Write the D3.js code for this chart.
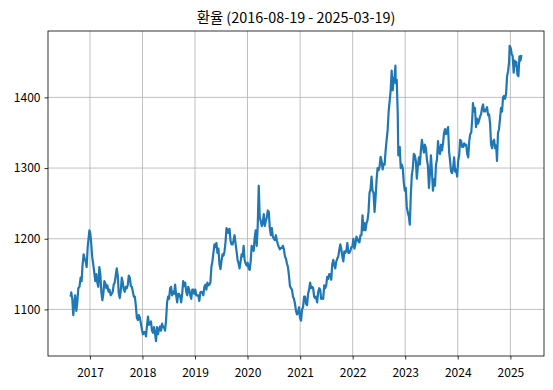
<!DOCTYPE html>
<html>
<head>
<meta charset="utf-8">
<script src="https://cdn.jsdelivr.net/npm/d3@7"></script>
<style>
  body { margin: 0; background: #fff; }
  text { font-family: "Noto Sans CJK KR", "Noto Sans", sans-serif; }
</style>
</head>
<body>
<svg id="chart" width="553" height="390"></svg>
<script>
// daily USD/KRW, roughly weekly
var rate2016 = [
  ["2016-08-19",1118],["2016-08-24",1124],["2016-08-31",1115],["2016-09-07",1092],["2016-09-12",1105],
  ["2016-09-20",1120],["2016-09-28",1098],["2016-10-05",1110],["2016-10-12",1130],["2016-10-20",1132],
  ["2016-10-28",1145],["2016-11-04",1140],["2016-11-10",1162],["2016-11-18",1178],["2016-11-25",1172],
  ["2016-12-02",1168],["2016-12-09",1160],["2016-12-16",1188],["2016-12-23",1202],["2016-12-28",1212]
];
var rate2017 = [
  ["2017-01-03",1208],["2017-01-09",1195],["2017-01-16",1175],["2017-01-23",1165],["2017-01-31",1152],
  ["2017-02-07",1140],["2017-02-14",1150],["2017-02-21",1138],["2017-02-28",1132],["2017-03-07",1160],
  ["2017-03-14",1150],["2017-03-21",1125],["2017-03-28",1113],["2017-04-04",1122],["2017-04-11",1140],
  ["2017-04-18",1137],["2017-04-25",1130],["2017-05-02",1134],["2017-05-10",1125],["2017-05-17",1128],
  ["2017-05-25",1120],["2017-06-01",1122],["2017-06-08",1125],["2017-06-15",1135],["2017-06-22",1138],
  ["2017-06-29",1148],["2017-07-06",1158],["2017-07-13",1148],["2017-07-20",1123],["2017-07-27",1116],
  ["2017-08-03",1126],["2017-08-10",1145],["2017-08-17",1138],["2017-08-24",1128],["2017-08-31",1125],
  ["2017-09-07",1132],["2017-09-14",1130],["2017-09-21",1135],["2017-09-28",1148],["2017-10-05",1145],
  ["2017-10-12",1133],["2017-10-19",1132],["2017-10-26",1125],["2017-11-02",1118],["2017-11-09",1118],
  ["2017-11-16",1105],["2017-11-23",1088],["2017-11-30",1085],["2017-12-07",1092],["2017-12-14",1088],
  ["2017-12-21",1080],["2017-12-28",1072]
];
var rate2018 = [
  ["2018-01-04",1065],["2018-01-11",1068],["2018-01-18",1068],["2018-01-25",1062],["2018-02-01",1076],
  ["2018-02-08",1090],["2018-02-15",1078],["2018-02-22",1080],["2018-03-01",1083],["2018-03-08",1070],
  ["2018-03-15",1067],["2018-03-22",1075],["2018-03-29",1066],["2018-04-05",1055],["2018-04-12",1075],
  ["2018-04-19",1065],["2018-04-26",1072],["2018-05-03",1076],["2018-05-10",1070],["2018-05-17",1080],
  ["2018-05-24",1075],["2018-05-31",1075],["2018-06-07",1070],["2018-06-14",1085],["2018-06-21",1110],
  ["2018-06-28",1118],["2018-07-05",1115],["2018-07-12",1130],["2018-07-19",1132],["2018-07-26",1120],
  ["2018-08-02",1125],["2018-08-09",1122],["2018-08-16",1135],["2018-08-23",1120],["2018-08-30",1110],
  ["2018-09-06",1122],["2018-09-13",1122],["2018-09-20",1118],["2018-09-27",1110],["2018-10-04",1122],
  ["2018-10-11",1140],["2018-10-18",1133],["2018-10-25",1138],["2018-11-01",1125],["2018-11-08",1120],
  ["2018-11-15",1132],["2018-11-22",1128],["2018-11-29",1120],["2018-12-06",1115],["2018-12-13",1128],
  ["2018-12-20",1128],["2018-12-27",1122]
];
var rate2019 = [
  ["2019-01-03",1128],["2019-01-10",1120],["2019-01-17",1120],["2019-01-24",1120],["2019-01-31",1112],
  ["2019-02-07",1124],["2019-02-14",1125],["2019-02-21",1124],["2019-02-28",1120],["2019-03-07",1132],
  ["2019-03-14",1135],["2019-03-21",1128],["2019-03-28",1138],["2019-04-04",1134],["2019-04-11",1135],
  ["2019-04-18",1138],["2019-04-25",1160],["2019-05-02",1168],["2019-05-09",1180],["2019-05-16",1192],
  ["2019-05-23",1188],["2019-05-30",1194],["2019-06-06",1180],["2019-06-13",1186],["2019-06-20",1164],
  ["2019-06-27",1157],["2019-07-04",1168],["2019-07-11",1178],["2019-07-18",1176],["2019-07-25",1182],
  ["2019-08-01",1195],["2019-08-08",1215],["2019-08-15",1213],["2019-08-22",1208],["2019-08-29",1214],
  ["2019-09-05",1197],["2019-09-12",1192],["2019-09-19",1192],["2019-09-26",1198],["2019-10-03",1205],
  ["2019-10-10",1193],["2019-10-17",1182],["2019-10-24",1170],["2019-10-31",1165],["2019-11-07",1158],
  ["2019-11-14",1168],["2019-11-21",1178],["2019-11-28",1175],["2019-12-05",1190],["2019-12-12",1170],
  ["2019-12-19",1165],["2019-12-26",1162]
];
var rate2020 = [
  ["2020-01-02",1166],["2020-01-09",1158],["2020-01-16",1156],["2020-01-23",1168],["2020-01-30",1190],
  ["2020-02-06",1185],["2020-02-13",1183],["2020-02-20",1202],["2020-02-27",1212],["2020-03-05",1190],
  ["2020-03-12",1218],["2020-03-19",1275],["2020-03-26",1230],["2020-04-02",1225],["2020-04-09",1218],
  ["2020-04-16",1222],["2020-04-23",1235],["2020-04-30",1218],["2020-05-07",1225],["2020-05-14",1230],
  ["2020-05-21",1240],["2020-05-28",1238],["2020-06-04",1215],["2020-06-11",1205],["2020-06-18",1215],
  ["2020-06-25",1203],["2020-07-02",1200],["2020-07-09",1198],["2020-07-16",1205],["2020-07-23",1198],
  ["2020-07-30",1192],["2020-08-06",1188],["2020-08-13",1185],["2020-08-20",1187],["2020-08-27",1187],
  ["2020-09-03",1190],["2020-09-10",1185],["2020-09-17",1175],["2020-09-24",1172],["2020-10-01",1165],
  ["2020-10-08",1160],["2020-10-15",1148],["2020-10-22",1133],["2020-10-29",1130],["2020-11-05",1128],
  ["2020-11-12",1118],["2020-11-19",1115],["2020-11-26",1108],["2020-12-03",1098],["2020-12-10",1093],
  ["2020-12-17",1095],["2020-12-24",1103],["2020-12-31",1088]
];
var rate2021 = [
  ["2021-01-07",1084],["2021-01-14",1100],["2021-01-21",1103],["2021-01-28",1118],["2021-02-04",1118],
  ["2021-02-11",1108],["2021-02-18",1106],["2021-02-25",1122],["2021-03-04",1128],["2021-03-11",1138],
  ["2021-03-18",1130],["2021-03-25",1132],["2021-04-01",1130],["2021-04-08",1118],["2021-04-15",1116],
  ["2021-04-22",1118],["2021-04-29",1110],["2021-05-06",1124],["2021-05-13",1130],["2021-05-20",1128],
  ["2021-05-27",1115],["2021-06-03",1116],["2021-06-10",1115],["2021-06-17",1134],["2021-06-24",1130],
  ["2021-07-01",1134],["2021-07-08",1146],["2021-07-15",1143],["2021-07-22",1150],["2021-07-29",1150],
  ["2021-08-05",1142],["2021-08-12",1164],["2021-08-19",1170],["2021-08-26",1163],["2021-09-02",1158],
  ["2021-09-09",1168],["2021-09-16",1172],["2021-09-23",1175],["2021-09-30",1184],["2021-10-07",1192],
  ["2021-10-14",1185],["2021-10-21",1175],["2021-10-28",1168],["2021-11-04",1182],["2021-11-11",1180],
  ["2021-11-18",1183],["2021-11-25",1194],["2021-12-02",1180],["2021-12-09",1180],["2021-12-16",1183],
  ["2021-12-23",1188],["2021-12-30",1189]
];
var rate2022 = [
  ["2022-01-06",1200],["2022-01-13",1186],["2022-01-20",1192],["2022-01-27",1203],["2022-02-03",1200],
  ["2022-02-10",1196],["2022-02-17",1195],["2022-02-24",1205],["2022-03-03",1205],["2022-03-10",1233],
  ["2022-03-17",1212],["2022-03-24",1222],["2022-03-31",1212],["2022-04-07",1222],["2022-04-14",1226],
  ["2022-04-21",1238],["2022-04-28",1265],["2022-05-05",1270],["2022-05-12",1288],["2022-05-19",1268],
  ["2022-05-26",1265],["2022-06-02",1238],["2022-06-09",1258],["2022-06-16",1283],["2022-06-23",1300],
  ["2022-06-30",1297],["2022-07-07",1302],["2022-07-14",1316],["2022-07-21",1310],["2022-07-28",1298],
  ["2022-08-04",1306],["2022-08-11",1305],["2022-08-18",1325],["2022-08-25",1340],["2022-09-01",1354],
  ["2022-09-08",1380],["2022-09-15",1395],["2022-09-22",1410],["2022-09-29",1438],["2022-10-06",1410],
  ["2022-10-13",1425],["2022-10-20",1430],["2022-10-25",1445],["2022-10-27",1420],["2022-11-03",1425],
  ["2022-11-10",1378],["2022-11-14",1318],["2022-11-17",1328],["2022-11-24",1330],["2022-12-01",1300],
  ["2022-12-08",1305],["2022-12-15",1300],["2022-12-22",1280],["2022-12-29",1268]
];
var rate2023 = [
  ["2023-01-05",1272],["2023-01-12",1245],["2023-01-19",1237],["2023-01-26",1232],["2023-02-02",1220],
  ["2023-02-09",1262],["2023-02-16",1290],["2023-02-23",1300],["2023-03-02",1320],["2023-03-09",1318],
  ["2023-03-16",1310],["2023-03-23",1285],["2023-03-30",1303],["2023-04-06",1315],["2023-04-13",1305],
  ["2023-04-20",1325],["2023-04-27",1340],["2023-05-04",1330],["2023-05-11",1322],["2023-05-18",1333],
  ["2023-05-25",1328],["2023-06-01",1312],["2023-06-08",1303],["2023-06-15",1272],["2023-06-22",1292],
  ["2023-06-29",1318],["2023-07-06",1295],["2023-07-13",1268],["2023-07-20",1284],["2023-07-27",1275],
  ["2023-08-03",1305],["2023-08-10",1312],["2023-08-17",1338],["2023-08-24",1323],["2023-08-31",1320],
  ["2023-09-07",1333],["2023-09-14",1325],["2023-09-21",1335],["2023-09-28",1350],["2023-10-05",1355],
  ["2023-10-12",1348],["2023-10-19",1353],["2023-10-26",1358],["2023-11-02",1323],["2023-11-09",1310],
  ["2023-11-16",1295],["2023-11-23",1293],["2023-11-30",1300],["2023-12-07",1315],["2023-12-14",1295],
  ["2023-12-21",1298],["2023-12-28",1288]
];
var rate2024 = [
  ["2024-01-04",1310],["2024-01-11",1318],["2024-01-18",1340],["2024-01-25",1338],["2024-02-01",1330],
  ["2024-02-08",1330],["2024-02-15",1335],["2024-02-22",1332],["2024-02-29",1333],["2024-03-07",1320],
  ["2024-03-14",1315],["2024-03-21",1338],["2024-03-28",1348],["2024-04-04",1350],["2024-04-11",1370],
  ["2024-04-16",1392],["2024-04-23",1380],["2024-04-30",1385],["2024-05-07",1358],["2024-05-14",1370],
  ["2024-05-21",1363],["2024-05-28",1367],["2024-06-04",1373],["2024-06-11",1376],["2024-06-18",1385],
  ["2024-06-25",1390],["2024-07-02",1380],["2024-07-09",1380],["2024-07-16",1383],["2024-07-23",1386],
  ["2024-07-30",1375],["2024-08-06",1376],["2024-08-13",1363],["2024-08-20",1333],["2024-08-27",1328],
  ["2024-09-03",1338],["2024-09-10",1340],["2024-09-17",1328],["2024-09-24",1332],["2024-09-30",1310],
  ["2024-10-07",1350],["2024-10-14",1355],["2024-10-21",1370],["2024-10-28",1385],["2024-11-04",1380],
  ["2024-11-11",1400],["2024-11-18",1402],["2024-11-25",1398],["2024-12-02",1405],["2024-12-09",1430],
  ["2024-12-16",1437],["2024-12-23",1450],["2024-12-27",1473]
];
var rate2025 = [
  ["2025-01-03",1470],["2025-01-10",1462],["2025-01-17",1458],["2025-01-24",1435],["2025-01-31",1452],
  ["2025-02-05",1445],["2025-02-12",1450],["2025-02-19",1432],["2025-02-26",1430],["2025-03-05",1458],
  ["2025-03-12",1452],["2025-03-19",1460]
];
var yearTicks = [2017, 2018, 2019, 2020, 2021, 2022, 2023, 2024, 2025];
var rateTicks = [1100, 1200, 1300, 1400];
var title = "환율 (2016-08-19 - 2025-03-19)";

var parse = d3.timeParse("%Y-%m-%d");
var data = [].concat(rate2016, rate2017, rate2018, rate2019, rate2020, rate2021, rate2022, rate2023, rate2024, rate2025)
  .map(function(d) { return {date: parse(d[0]), rate: d[1]}; });

var svg = d3.select("#chart"),
    margin = {top: 31, right: 9, bottom: 34, left: 48},
    width = +svg.attr("width") - margin.left - margin.right,
    height = +svg.attr("height") - margin.top - margin.bottom,
    g = svg.append("g").attr("transform", "translate(" + margin.left + "," + margin.top + ")");

// matplotlib style 5% margins
var tExt = d3.extent(data, function(d) { return +d.date; }),
    tPad = (tExt[1] - tExt[0]) * 0.05,
    rExt = d3.extent(data, function(d) { return d.rate; }),
    rPad = (rExt[1] - rExt[0]) * 0.05;

var x = d3.scaleTime()
  .domain([new Date(tExt[0] - tPad), new Date(tExt[1] + tPad)])
  .range([0, width]);

var y = d3.scaleLinear()
  .domain([rExt[0] - rPad, rExt[1] + rPad])
  .range([height, 0]);

var xTickDates = yearTicks.map(function(yr) { return new Date(yr, 0, 1); });

// grid
g.append("g").selectAll("line").data(xTickDates).enter().append("line")
  .attr("x1", function(d) { return x(d); }).attr("x2", function(d) { return x(d); })
  .attr("y1", 0).attr("y2", height)
  .attr("stroke", "#b0b0b0").attr("stroke-width", 0.8);
g.append("g").selectAll("line").data(rateTicks).enter().append("line")
  .attr("x1", 0).attr("x2", width)
  .attr("y1", function(d) { return y(d); }).attr("y2", function(d) { return y(d); })
  .attr("stroke", "#b0b0b0").attr("stroke-width", 0.8);

// line
var line = d3.line()
  .x(function(d) { return x(d.date); })
  .y(function(d) { return y(d.rate); });

g.append("path")
  .datum(data)
  .attr("fill", "none")
  .attr("stroke", "#1f77b4")
  .attr("stroke-width", 2.2)
  .attr("stroke-linejoin", "round")
  .attr("d", line);

// axes
var xAxis = g.append("g")
  .attr("transform", "translate(0," + height + ")")
  .call(d3.axisBottom(x).tickValues(xTickDates).tickFormat(d3.timeFormat("%Y")).tickSize(3.5).tickPadding(9));
var yAxis = g.append("g")
  .call(d3.axisLeft(y).tickValues(rateTicks).tickFormat(d3.format("d")).tickSize(3.5).tickPadding(4));

[xAxis, yAxis].forEach(function(a) {
  a.select(".domain").remove();
  a.selectAll("line").attr("stroke", "#000").attr("stroke-width", 0.8);
  a.selectAll("text").attr("fill", "#000").style("font-size", "12px")
   .style("font-family", '"Noto Sans CJK KR", sans-serif');
});

// frame
g.append("rect")
  .attr("width", width).attr("height", height)
  .attr("fill", "none").attr("stroke", "#000").attr("stroke-width", 0.8);

svg.append("text")
  .attr("x", margin.left + width / 2)
  .attr("y", 23)
  .attr("text-anchor", "middle")
  .style("font-size", "14.4px")
  .text(title);
</script>
</body>
</html>
